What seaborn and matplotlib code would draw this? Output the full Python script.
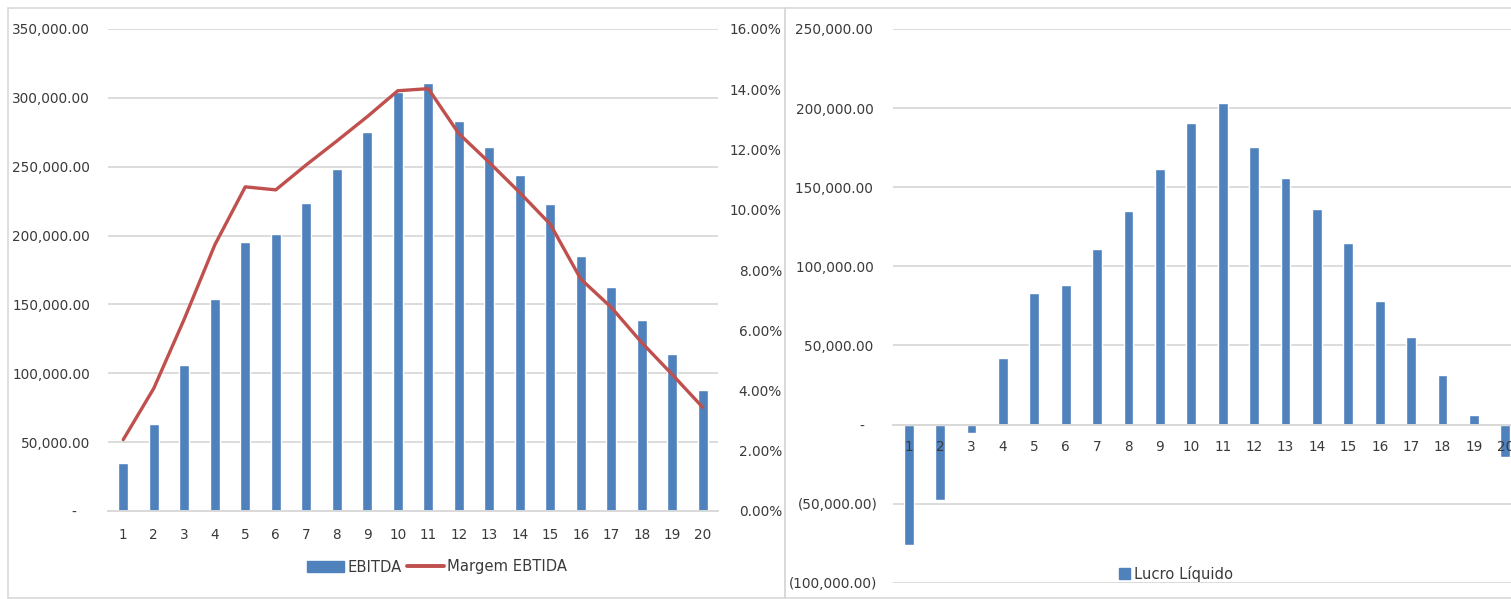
import matplotlib.pyplot as plt
import matplotlib.patches as patches
from matplotlib.lines import Line2D
from matplotlib.ticker import FuncFormatter
import seaborn as sns
import pandas as pd
import numpy as np

# -------------------------------------------------------------------
# Data
# -------------------------------------------------------------------
periods = list(range(1, 21))
ebitda = [35200, 63500, 106000, 154000, 195500, 201000, 223500, 248000, 275000, 304500,
          311000, 283300, 264000, 244000, 223000, 185500, 162800, 139000, 114000, 87800]
margem = [0.0237, 0.0407, 0.0637, 0.0883, 0.1076, 0.1066, 0.1149, 0.1228, 0.1309, 0.1395,
          0.1402, 0.1253, 0.1157, 0.1057, 0.0952, 0.0770, 0.0676, 0.0559, 0.0453, 0.0344]
lucro = [-76400, -47900, -5500, 42000, 83200, 88400, 110800, 135200, 161800, 190700,
         203000, 175500, 156100, 136000, 115000, 78000, 55000, 31000, 5900, -20500]

ebitda_ticks = [0, 50000, 100000, 150000, 200000, 250000, 300000, 350000]
margem_ticks = [0.0, 0.02, 0.04, 0.06, 0.08, 0.10, 0.12, 0.14, 0.16]
lucro_ticks = [-100000, -50000, 0, 50000, 100000, 150000, 200000, 250000]

BLUE = '#4F81BD'
RED = '#C0504D'
GRID = '#D9D9D9'
TXT = '#3A3A3A'
FS = 9.8

sns.set_style('white')
plt.rcParams['font.family'] = ['DejaVu Sans']
plt.rcParams['text.color'] = TXT
plt.rcParams['xtick.color'] = TXT
plt.rcParams['ytick.color'] = TXT

W, H = 1511, 599
fig = plt.figure(figsize=(W / 100, H / 100), dpi=100)


def money_left(v, pos=None):
    if abs(v) < 1e-6:
        return '-   '
    return f'{v:,.2f}'


def money_right(v, pos=None):
    if abs(v) < 1e-6:
        return '-   '
    if v < 0:
        return f'({abs(v):,.2f})'
    return f'{v:,.2f} '


def style_axes(ax):
    for s in ['top', 'left', 'right']:
        ax.spines[s].set_visible(False)
    ax.spines['bottom'].set_color(GRID)
    ax.spines['bottom'].set_linewidth(1.4)
    ax.grid(axis='y', color=GRID, lw=1.3)
    ax.grid(axis='x', visible=False)
    ax.tick_params(length=0, labelsize=FS)
    ax.tick_params(axis='x', pad=12)
    ax.set_xlabel('')
    ax.set_ylabel('')


# -------------------------------------------------------------------
# Left chart: EBITDA + Margem EBTIDA
# -------------------------------------------------------------------
df_left = pd.DataFrame({'Periodo': periods, 'EBITDA': ebitda, 'Margem': margem})

ax1 = fig.add_axes([108 / W, 1 - 511 / H, 610 / W, 482 / H])
sns.barplot(data=df_left, x='Periodo', y='EBITDA', color=BLUE, width=0.33,
            saturation=1, ax=ax1, zorder=2)
ax1.set_ylim(0, 350000)
ax1.set_yticks(ebitda_ticks)
ax1.yaxis.set_major_formatter(FuncFormatter(money_left))
style_axes(ax1)
ax1.tick_params(axis='y', pad=13)
ax1.set_axisbelow(True)

ax2 = ax1.twinx()
sns.lineplot(x=np.arange(len(periods)), y=df_left['Margem'], ax=ax2, color=RED,
             lw=2.4, legend=False)
ax2.set_ylim(0, 0.16)
ax2.set_yticks(margem_ticks)
ax2.yaxis.set_major_formatter(FuncFormatter(lambda v, p: f'{v * 100:.2f}%'))
for s in ['top', 'left', 'right', 'bottom']:
    ax2.spines[s].set_visible(False)
ax2.grid(False)
ax2.tick_params(length=0, labelsize=FS, pad=46)
ax2.set_ylabel('')
plt.setp(ax2.get_yticklabels(), ha='right')
ax1.set_xlim(-0.5, len(periods) - 0.5)

handles_left = [patches.Patch(color=BLUE, label='EBITDA'),
                Line2D([], [], color=RED, lw=2.8, label='Margem EBTIDA')]
fig.legend(handles=handles_left, loc='center', bbox_to_anchor=(437 / W, 1 - 567 / H),
           ncol=2, frameon=False, fontsize=10.6, handlelength=2.5, handleheight=0.75,
           handletextpad=0.25, columnspacing=0.35)

# -------------------------------------------------------------------
# Right chart: Lucro Liquido
# -------------------------------------------------------------------
df_right = pd.DataFrame({'Periodo': periods, 'Lucro': lucro})

ax3 = fig.add_axes([893 / W, 1 - 582.7 / H, 628 / W, (582.7 - 29) / H])
sns.barplot(data=df_right, x='Periodo', y='Lucro', color=BLUE, width=0.31,
            saturation=1, ax=ax3, zorder=2)
ax3.set_ylim(-100000, 250000)
ax3.set_yticks(lucro_ticks)
ax3.yaxis.set_major_formatter(FuncFormatter(money_right))
style_axes(ax3)
ax3.tick_params(axis='y', pad=11)
ax3.tick_params(axis='x', pad=11.5)
ax3.spines['bottom'].set_position(('data', 0))
ax3.set_axisbelow(True)
ax3.xaxis.set_zorder(3)
ax3.set_xlim(-0.5, len(periods) - 0.5)

handles_right = [patches.Patch(color=BLUE, label='Lucro Líquido')]
fig.legend(handles=handles_right, loc='center', bbox_to_anchor=(1176 / W, 1 - 574 / H),
           frameon=False, fontsize=10.6, handlelength=0.75, handleheight=0.75,
           handletextpad=0.25)

# chart borders
fig.add_artist(patches.Rectangle((8 / W, 1.3 / H), 777 / W, 589.7 / H, transform=fig.transFigure,
                                 fill=False, edgecolor=GRID, lw=1.2))
fig.add_artist(patches.Rectangle((785 / W, 1.3 / H), 0.6, 589.7 / H, transform=fig.transFigure,
                                 fill=False, edgecolor=GRID, lw=1.2))

fig.savefig('out.png', dpi=100)
